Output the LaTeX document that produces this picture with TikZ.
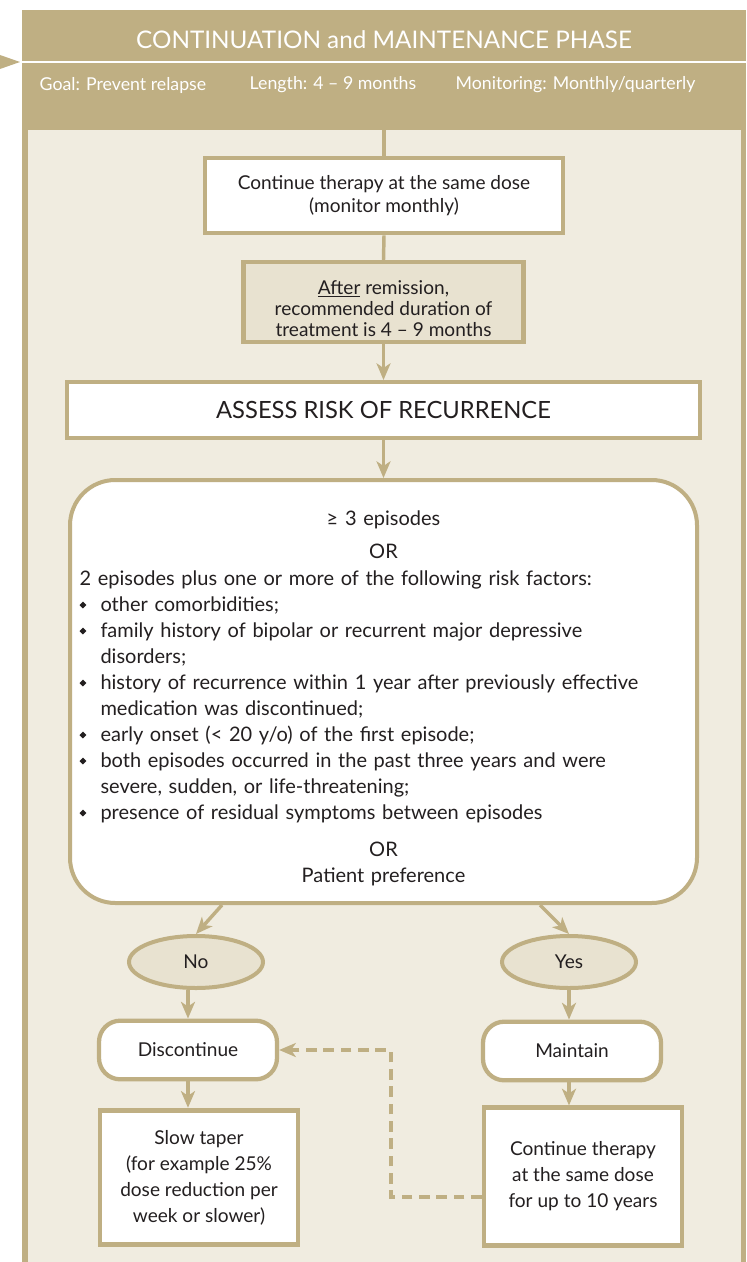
\documentclass[tikz,border=0pt]{standalone}
\usepackage{fontspec}
\setmainfont{Lato}
\usepackage{graphicx}
\usetikzlibrary{arrows.meta,shapes.geometric}

\definecolor{sand}{RGB}{191,175,131}
\definecolor{cream}{RGB}{240,236,224}
\definecolor{pale}{RGB}{232,226,208}
\definecolor{ink}{RGB}{35,31,32}

\newcommand{\bul}{\makebox[1.05em][l]{\raisebox{0.3ex}{\rotatebox{45}{\rule{3.6pt}{3.6pt}}}}}
\newcommand{\bulsp}{\hspace*{1.05em}}

\begin{document}
\begin{tikzpicture}[x=0.75pt,y=-0.75pt,
  every node/.style={text=ink,font=\fontsize{14.3}{17.5}\selectfont},
  box/.style={draw=sand,line width=3.6pt,fill=white,align=center,inner sep=0pt},
  choice/.style={ellipse,draw=sand,line width=3pt,fill=pale,inner sep=0pt,
    minimum width=100.5pt,minimum height=39pt},
  act/.style={box,line width=3.2pt,rounded corners=16pt,minimum width=133.5pt,minimum height=44pt},
  link/.style={draw=sand,line width=2.6pt},
  arr/.style={link,-{Stealth[length=12.5pt,width=10.5pt,inset=3.5pt]}},
  dashlink/.style={arr,dash pattern=on 8pt off 5pt},
  head/.style={text=white,font=\fontsize{18.2}{20}\selectfont},
  sub/.style={text=white,font=\fontsize{13.3}{15}\selectfont,anchor=west}]
\useasboundingbox (0,0) rectangle (746,1262);
%\draw[step=50,gray,very thin] (0,0) grid (746,1262); %background grid

% panel and header
\fill[sand] (22,10) rectangle (746,1262);
\fill[cream] (28,130) rectangle (741,1262);
\draw[white,line width=2.2pt] (22,62) -- (746,62);
\fill[sand] (0,55) -- (20,62) -- (0,69) -- cycle;

\node[head] (phase) at (384,40) {CONTINUATION and MAINTENANCE PHASE};
\node[sub] (goal) at (35,85) {Goal: Prevent relapse};
\node[sub] (length) at (245,85) {Length: 4 -- 9 months};
\node[sub] (monitor) at (451,85) {Monitoring: Monthly/quarterly};
\coordinate (hdr) at (384,130);

% boxes
\node[box,minimum width=268.5pt,minimum height=56.25pt] (cont) at (384,195.5)
  {Continue therapy at the same dose\\(monitor monthly)};
\node[box,fill=pale,line width=3.2pt,minimum width=210pt,minimum height=60pt,
  font=\fontsize{14.3}{15.75}\selectfont] (remit) at (383.5,302)
  {\rule{0pt}{20pt}\underline{After} remission,\\recommended duration of\\treatment is 4 -- 9 months};
\node[box,line width=3pt,minimum width=474.75pt,minimum height=42pt,
  font=\fontsize{17.8}{20}\selectfont] (assess) at (383.5,410) {ASSESS RISK OF RECURRENCE};

\node[box,line width=3pt,rounded corners=34pt,minimum width=470.25pt,minimum height=317.25pt,
  text width=456pt,align=left,font=\fontsize{15}{19.5}\selectfont] (risk) at (383.5,691.5) {%
  \parindent=0pt
  {\centering\rule{0pt}{21pt}≥ 3 episodes\par}\vspace{5pt}
  {\centering OR\par}\vspace{1pt}
  2 episodes plus one or more of the following risk factors:\par
  \bul other comorbidities;\par
  \bul family history of bipolar or recurrent major depressive\par
  \bulsp disorders;\par
  \bul history of recurrence within 1 year after previously effective\par
  \bulsp medication was discontinued;\par
  \bul early onset (< 20 y/o) of the first episode;\par
  \bul both episodes occurred in the past three years and were\par
  \bulsp severe, sudden, or life-threatening;\par
  \bul presence of residual symptoms between episodes\par\vspace{8pt}
  {\centering OR\par}
  {\centering Patient preference\par}};

\node[choice] (no) at (196,962) {No};
\node[choice] (yes) at (569,962) {Yes};
\node[act] (disc) at (188,1050) {Discontinue};
\node[act] (maint) at (572,1051) {Maintain};

\node[box,minimum width=148.5pt,minimum height=101pt,font=\fontsize{14.3}{19.5}\selectfont]
  (taper) at (199,1177.5) {Slow taper\\(for example 25\%\\dose reduction per\\week or slower)};
\node[box,minimum width=148.5pt,minimum height=103pt,font=\fontsize{14.3}{19.5}\selectfont]
  (keep) at (583,1176.5) {Continue therapy\\at the same dose\\for up to 10 years};

% connectors
\coordinate (noStart) at (222,0);
\coordinate (yesStart) at (540,0);
\coordinate (loop) at (391,1197);

\draw[link] (hdr) -- (cont.north);
\draw[link] (cont.south) -- (remit.north);
\draw[arr] (remit.south) -- (assess.north);
\draw[arr] (assess.south) -- (risk.north);
\draw[arr] (risk.south -| noStart) -- (no.north);
\draw[arr] (risk.south -| yesStart) -- (yes.north);
\draw[arr] (disc.north |- no.south) -- (disc.north);
\draw[arr] (yes.south) -- (yes.south |- maint.north);
\draw[arr] (disc.south) -- (disc.south |- taper.north);
\draw[arr] (yes.south |- maint.south) -- (yes.south |- keep.north);
\draw[dashlink] (loop -| keep.west) -- (loop) |- (disc.east);
\end{tikzpicture}
\end{document}
